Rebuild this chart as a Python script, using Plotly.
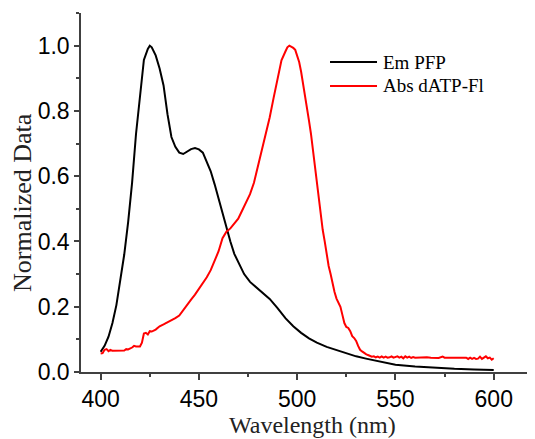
import plotly.graph_objects as go

# Em PFP (black)
em_wl = [400, 402, 404, 406, 408, 410, 412, 414, 416, 418, 420, 422, 424, 425, 426, 428,
         430, 432, 434, 436, 438, 440, 442, 444, 446, 448, 450, 452, 454, 456, 458, 460,
         462, 464, 466, 468, 470, 473, 476, 479, 482, 486, 490, 494, 498, 502, 506, 510,
         515, 520, 525, 530, 535, 540, 545, 550, 560, 570, 580, 590, 600]
em_val = [0.062, 0.08, 0.108, 0.15, 0.205, 0.28, 0.36, 0.46, 0.58, 0.73, 0.85, 0.956, 0.99, 1.0, 0.995, 0.97,
          0.93, 0.878, 0.79, 0.72, 0.69, 0.672, 0.668, 0.675, 0.683, 0.686, 0.682, 0.672, 0.645, 0.615, 0.575, 0.53,
          0.483, 0.437, 0.4, 0.362, 0.335, 0.3, 0.276, 0.26, 0.244, 0.224, 0.196, 0.165, 0.14, 0.12, 0.103, 0.09,
          0.077, 0.067, 0.057, 0.048, 0.041, 0.034, 0.027, 0.022, 0.017, 0.013, 0.01, 0.008, 0.006]

# Abs dATP-Fl (red)
abs_wl = [400, 401, 402, 403, 404, 405, 406, 408, 410, 412, 413, 414, 416, 417, 418, 420,
          421, 422, 423, 424, 425, 426, 428, 430, 432, 434, 436, 438, 440, 442, 444, 446,
          448, 450, 452, 454, 456, 458, 460, 462, 464, 466, 468, 470, 472, 474, 476, 478,
          480, 482, 484, 486, 488, 490, 492, 494, 495, 496, 497, 498, 499, 500, 501, 502,
          503, 504, 505, 506, 507, 508, 509, 510, 511, 512, 513, 514, 515, 516, 517, 518,
          519, 520, 521, 522, 523, 524, 525, 526, 527, 528, 529, 530, 531, 532, 533, 534,
          535, 536, 537, 538, 539, 540, 541, 542, 543, 544, 545, 546, 547, 548, 549, 550,
          551, 552, 553, 554, 555, 556, 557, 558, 559, 560, 562, 564, 566, 568, 570, 572,
          574, 575, 578, 580, 582, 584, 586, 587, 588, 589, 590, 591, 592, 593, 594, 595,
          596, 597, 598, 599, 600]
abs_val = [0.057, 0.058, 0.068, 0.07, 0.064, 0.068, 0.065, 0.065, 0.065, 0.066, 0.07, 0.069, 0.075, 0.08, 0.078, 0.078,
           0.09, 0.118, 0.12, 0.115, 0.125, 0.124, 0.13, 0.14, 0.146, 0.152, 0.158, 0.165, 0.173, 0.19, 0.205, 0.222,
           0.237, 0.255, 0.27, 0.29, 0.312, 0.34, 0.37, 0.41, 0.43, 0.44, 0.455, 0.47, 0.495, 0.52, 0.545, 0.58,
           0.63, 0.675, 0.725, 0.78, 0.84, 0.9, 0.955, 0.982, 0.995, 1.0, 0.997, 0.993, 0.987, 0.97, 0.95, 0.92,
           0.885, 0.85, 0.81, 0.77, 0.73, 0.68, 0.63, 0.58, 0.53, 0.475, 0.435, 0.4, 0.36, 0.325, 0.3, 0.27,
           0.245, 0.225, 0.21, 0.2, 0.175, 0.15, 0.138, 0.135, 0.125, 0.11, 0.104, 0.095, 0.08, 0.068, 0.063, 0.058,
           0.055, 0.052, 0.05, 0.047, 0.048, 0.045, 0.047, 0.044, 0.048, 0.044, 0.047, 0.044, 0.045, 0.048, 0.044, 0.045,
           0.048, 0.044, 0.047, 0.042, 0.048, 0.044, 0.047, 0.043, 0.046, 0.044, 0.045, 0.044, 0.045, 0.044, 0.044, 0.043,
           0.047, 0.044, 0.044, 0.044, 0.044, 0.044, 0.044, 0.04, 0.044, 0.04, 0.043, 0.04, 0.041, 0.047, 0.04, 0.044,
           0.048, 0.042, 0.044, 0.038, 0.042]

x_ticks = [400, 450, 500, 550, 600]
y_ticks = [0.0, 0.2, 0.4, 0.6, 0.8, 1.0]
y_ticklabels = ["0.0", "0.2", "0.4", "0.6", "0.8", "1.0"]
series_names = ["Em PFP", "Abs dATP-Fl"]
series_colors = ["black", "#ff0000"]

serif = "Liberation Serif, Times New Roman, serif"
sans = "Liberation Sans, Arial, sans-serif"
axis_col = "#404040"

fig = go.Figure()
fig.add_trace(go.Scatter(x=em_wl, y=em_val, mode="lines", name=series_names[0],
                         line=dict(color=series_colors[0], width=2)))
fig.add_trace(go.Scatter(x=abs_wl, y=abs_val, mode="lines", name=series_names[1],
                         line=dict(color=series_colors[1], width=2)))

# manual legend (line samples + labels)
leg_y = [0.8635, 0.797]
for name, col, ly in zip(series_names, series_colors, leg_y):
    fig.add_shape(type="line", xref="paper", yref="paper", x0=0.5485, x1=0.652, y0=ly, y1=ly,
                  line=dict(color=col, width=2))
    fig.add_annotation(text=name, xref="paper", yref="paper", x=0.661, y=ly, xanchor="left",
                       yanchor="middle", showarrow=False, font=dict(family=serif, size=19, color="black"))

# axis titles
fig.add_annotation(text="Wavelength (nm)", xref="paper", yref="paper", x=0.509, y=-0.1866,
                   xanchor="center", yanchor="bottom", showarrow=False, borderpad=0,
                   font=dict(family=serif, size=24, color="#222"))
fig.add_annotation(text="Normalized Data", xref="paper", yref="paper", x=-0.13, y=0.4735,
                   xanchor="center", yanchor="middle", textangle=-90, showarrow=False,
                   font=dict(family=serif, size=26, color="#222"))

fig.update_layout(
    width=527, height=431,
    margin=dict(l=73, r=0, t=5, b=67),
    paper_bgcolor="white", plot_bgcolor="white",
    showlegend=False,
    xaxis=dict(range=[390, 621], tickvals=x_ticks, ticks="outside", ticklen=6, tickwidth=1.5,
               tickcolor=axis_col, showline=True, linecolor=axis_col, linewidth=1.5,
               showgrid=False, zeroline=False, automargin=False,
               tickfont=dict(family=sans, size=23, color="black"),
               minor=dict(dtick=25, tick0=400, ticks="outside", ticklen=3, tickcolor=axis_col, tickwidth=1.5)),
    yaxis=dict(range=[0, 1.1], tickvals=y_ticks, ticktext=y_ticklabels, ticks="outside", ticklen=5,
               tickwidth=1.5, tickcolor=axis_col, showline=True, linecolor=axis_col, linewidth=1.5,
               showgrid=False, zeroline=False, automargin=False,
               tickfont=dict(family=sans, size=23, color="black"),
               minor=dict(dtick=0.1, tick0=0, ticks="outside", ticklen=3, tickcolor=axis_col, tickwidth=1.5)),
)

fig.write_html("out.html")
